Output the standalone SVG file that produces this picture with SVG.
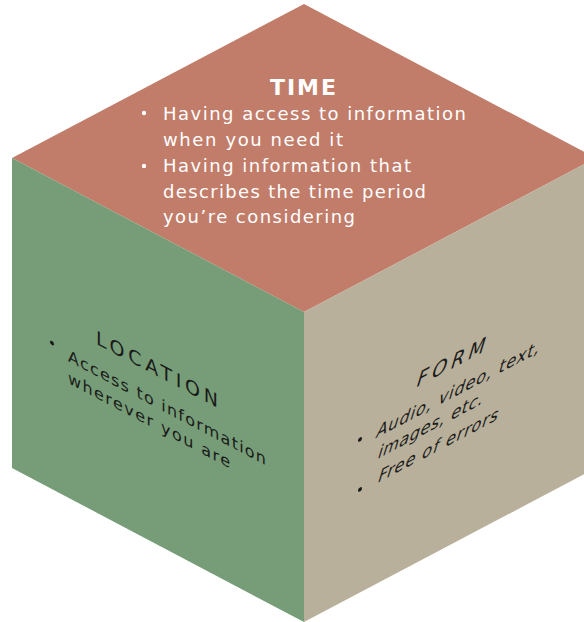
<svg xmlns="http://www.w3.org/2000/svg" width="584" height="622" viewBox="0 0 584 622">
  <style>
    .face { stroke: none; }
    .top-txt { font-family: "DejaVu Sans", "Liberation Sans", sans-serif; font-size: 18px; fill: #ffffff; }
    .top-head { font-family: "DejaVu Sans", "Liberation Sans", sans-serif; font-size: 22px; font-weight: bold; fill: #ffffff; }
    .side-txt { font-family: "DejaVu Sans", "Liberation Sans", sans-serif; font-size: 16px; fill: #1a1a1a; }
    .side-head { font-family: "DejaVu Sans", "Liberation Sans", sans-serif; font-size: 19px; fill: #1a1a1a; }
    .bullet-w { fill: #ffffff; }
    .bullet-k { fill: #1a1a1a; }
  </style>
  <rect width="584" height="622" fill="#ffffff"/>

  <!-- top face: TIME -->
  <g id="face-time">
    <polygon class="face" points="304,4 12,158 304,312 596,158" fill="#c17d6a"/>
    <text class="top-head" x="303" y="95" text-anchor="middle" textLength="66" lengthAdjust="spacing">TIME</text>
    <circle class="bullet-w" cx="144" cy="113" r="2.2"/>
    <text class="top-txt" x="163" y="120" textLength="303" lengthAdjust="spacing">Having access to information</text>
    <text class="top-txt" x="163" y="146" textLength="180" lengthAdjust="spacing">when you need it</text>
    <circle class="bullet-w" cx="144" cy="166" r="2.2"/>
    <text class="top-txt" x="163" y="172" textLength="248" lengthAdjust="spacing">Having information that</text>
    <text class="top-txt" x="163" y="198" textLength="263" lengthAdjust="spacing">describes the time period</text>
    <text class="top-txt" x="163" y="223" textLength="192" lengthAdjust="spacing">you’re considering</text>
  </g>

  <!-- left face: LOCATION (text sheared onto the face plane) -->
  <g id="face-location">
    <polygon class="face" points="12,158 304,312 304,622 12,468" fill="#769d77"/>
    <g transform="matrix(1 0.527 0 1 12 158)">
      <text class="side-head" x="84" y="141.5" textLength="122" lengthAdjust="spacing">LOCATION</text>
      <circle class="bullet-k" cx="40" cy="164" r="2"/>
      <text class="side-txt" x="56" y="173.5" textLength="198" lengthAdjust="spacing">Access to information</text>
      <text class="side-txt" x="56" y="195.5" textLength="162" lengthAdjust="spacing">wherever you are</text>
    </g>
  </g>

  <!-- right face: FORM (text sheared onto the face plane, slanted) -->
  <g id="face-form">
    <polygon class="face" points="304,312 596,158 596,468 304,622" fill="#b8b09a"/>
    <g transform="matrix(1 -0.527 0 1 304 312)">
      <text class="side-head" transform="translate(111 134.5) skewX(-20)" textLength="68" lengthAdjust="spacing">FORM</text>
      <circle class="bullet-k" cx="56" cy="157" r="2"/>
      <text class="side-txt" transform="translate(71 164) skewX(-20)" textLength="163" lengthAdjust="spacing">Audio, video, text,</text>
      <text class="side-txt" transform="translate(72.7 185.5) skewX(-20)" textLength="105" lengthAdjust="spacing">images, etc.</text>
      <circle class="bullet-k" cx="56" cy="207" r="2"/>
      <text class="side-txt" transform="translate(72.7 209.5) skewX(-20)" textLength="120" lengthAdjust="spacing">Free of errors</text>
    </g>
  </g>
</svg>
